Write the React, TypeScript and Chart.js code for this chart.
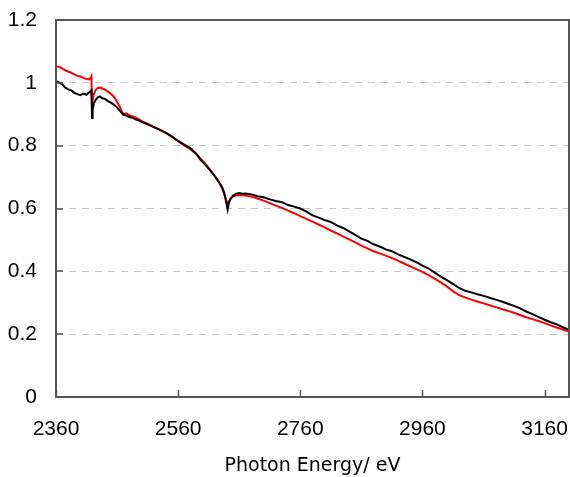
import React, { useEffect, useRef } from "react";
import { Chart, registerables } from "chart.js";

Chart.register(...registerables);

const energies = [
  2360, 2365, 2370, 2375, 2380, 2385, 2390, 2395, 2400, 2405, 2410, 2414, 2417, 2418, 2419, 2420, 2422, 2425, 2428, 2432,
  2436, 2440, 2445, 2450, 2455, 2460, 2465, 2470, 2475, 2480, 2485, 2490, 2495, 2500, 2510, 2520, 2530, 2540, 2550, 2560,
  2570, 2580, 2590, 2598, 2605, 2612, 2618, 2624, 2629, 2633, 2636, 2639, 2641, 2643, 2646, 2650, 2655, 2660, 2665, 2670,
  2680, 2690, 2700, 2710, 2720, 2730, 2740, 2750, 2760, 2770, 2780, 2790, 2800, 2810, 2820, 2830, 2840, 2850, 2860, 2870,
  2880, 2890, 2900, 2910, 2920, 2930, 2940, 2950, 2960, 2970, 2980, 2990, 3000, 3010, 3020, 3030, 3040, 3050, 3060, 3070,
  3080, 3090, 3100, 3110, 3120, 3130, 3140, 3150, 3160, 3170, 3180, 3190, 3200,
];

const blackSeries = [
  1.005, 1.001, 0.996, 0.985, 0.979, 0.976, 0.968, 0.964, 0.961, 0.966, 0.962, 0.969, 0.974, 0.976, 0.888, 0.915, 0.935, 0.946, 0.953, 0.957,
  0.951, 0.949, 0.942, 0.937, 0.93, 0.922, 0.91, 0.899, 0.896, 0.891, 0.889, 0.884, 0.881, 0.876, 0.868, 0.859, 0.85, 0.841, 0.829, 0.815,
  0.803, 0.792, 0.774, 0.752, 0.738, 0.722, 0.708, 0.692, 0.678, 0.664, 0.645, 0.618, 0.597, 0.618, 0.632, 0.641, 0.647, 0.649, 0.647, 0.648,
  0.645, 0.639, 0.636, 0.629, 0.624, 0.62, 0.611, 0.606, 0.6, 0.59, 0.578, 0.571, 0.563, 0.557, 0.546, 0.538, 0.527, 0.516, 0.504, 0.497,
  0.486, 0.479, 0.47, 0.464, 0.454, 0.446, 0.438, 0.429, 0.418, 0.409, 0.396, 0.383, 0.372, 0.36, 0.347, 0.338, 0.333, 0.327, 0.322, 0.316,
  0.31, 0.304, 0.297, 0.29, 0.282, 0.272, 0.264, 0.255, 0.246, 0.238, 0.231, 0.222, 0.214,
];

const redSeries = [
  1.052, 1.051, 1.046, 1.04, 1.036, 1.032, 1.027, 1.022, 1.02, 1.016, 1.012, 1.011, 1.016, 1.02, 0.925, 0.945, 0.965, 0.977, 0.983, 0.985,
  0.982, 0.978, 0.972, 0.965, 0.955, 0.94, 0.922, 0.9, 0.903, 0.897, 0.894, 0.89, 0.885, 0.878, 0.87, 0.86, 0.851, 0.841, 0.828, 0.814,
  0.801, 0.789, 0.773, 0.756, 0.741, 0.724, 0.709, 0.692, 0.676, 0.66, 0.642, 0.625, 0.61, 0.622, 0.632, 0.638, 0.642, 0.643, 0.642, 0.641,
  0.638, 0.632, 0.625, 0.617, 0.609, 0.602, 0.593, 0.585, 0.576, 0.567, 0.558, 0.549, 0.54, 0.53, 0.521, 0.511, 0.502, 0.492, 0.482, 0.473,
  0.464, 0.457, 0.45, 0.442, 0.434, 0.425, 0.416, 0.407, 0.398, 0.388, 0.377, 0.365, 0.352, 0.337, 0.324, 0.317, 0.31, 0.304, 0.298, 0.292,
  0.286, 0.28, 0.274, 0.268, 0.261, 0.254, 0.248, 0.242, 0.235, 0.228, 0.221, 0.215, 0.208,
];

const xTickValues = [2360, 2560, 2760, 2960, 3160];
const yTickValues = [0, 0.2, 0.4, 0.6, 0.8, 1, 1.2];

const TICK_FONT = "'Liberation Sans', Arial, sans-serif";
const TITLE_FONT = "'DejaVu Sans', sans-serif";

const framePlugin = {
  id: "frame",
  afterDraw(chart: any) {
    const { ctx, chartArea, scales } = chart;
    const { left, right, top, bottom } = chartArea;
    ctx.save();
    ctx.strokeStyle = "#555555";
    ctx.lineWidth = 2;
    ctx.beginPath();
    ctx.rect(left, top, right - left, bottom - top);
    ctx.stroke();
    ctx.lineWidth = 1.5;
    yTickValues.forEach((v) => {
      const y = Math.round(scales.y.getPixelForValue(v));
      ctx.beginPath();
      ctx.moveTo(left, y);
      ctx.lineTo(left + 7, y);
      ctx.stroke();
    });
    xTickValues.forEach((v) => {
      const x = Math.round(scales.x.getPixelForValue(v)) + 0.5;
      ctx.beginPath();
      ctx.moveTo(x, bottom);
      ctx.lineTo(x, bottom - 7);
      ctx.stroke();
    });
    ctx.restore();
  },
};

const zeroPadding = (s: any) => {
  s.paddingLeft = 0;
  s.paddingRight = 0;
  s.paddingTop = 0;
  s.paddingBottom = 0;
};

export default function App() {
  const ref = useRef<HTMLCanvasElement | null>(null);

  useEffect(() => {
    document.body.style.margin = "0";
    const canvas = ref.current;
    if (!canvas) return;
    const toPoints = (vals: number[]) => energies.map((e, i) => ({ x: e, y: vals[i] }));
    const chart = new Chart(canvas, {
      type: "line",
      data: {
        datasets: [
          {
            label: "black",
            data: toPoints(blackSeries),
            borderColor: "#000000",
            borderWidth: 2,
            pointRadius: 0,
            tension: 0,
          },
          {
            label: "red",
            data: toPoints(redSeries),
            borderColor: "#ff0000",
            borderWidth: 2,
            pointRadius: 0,
            tension: 0,
          },
        ],
      },
      options: {
        animation: false,
        responsive: false,
        maintainAspectRatio: false,
        layout: { padding: { top: 20, right: 1, left: 0, bottom: 0 } },
        plugins: { legend: { display: false }, tooltip: { enabled: false } },
        scales: {
          x: {
            type: "linear",
            min: 2360,
            max: 3200,
            afterFit: (s: any) => {
              s.height = 80;
              zeroPadding(s);
            },
            afterBuildTicks: (s: any) => {
              s.ticks = xTickValues.map((v) => ({ value: v }));
            },
            border: { display: false },
            grid: { display: false, drawTicks: false },
            ticks: {
              padding: 20,
              color: "#000000",
              font: { family: TICK_FONT, size: 21 },
              maxRotation: 0,
              autoSkip: false,
              callback: (v: any) => String(v),
            },
            title: {
              display: true,
              text: "Photon Energy/ eV",
              color: "#000000",
              font: { family: TITLE_FONT, size: 19 },
              padding: { top: 0, bottom: 0 },
            },
          },
          y: {
            min: 0,
            max: 1.2,
            afterFit: (s: any) => {
              s.width = 56;
              zeroPadding(s);
            },
            afterBuildTicks: (s: any) => {
              s.ticks = yTickValues.map((v) => ({ value: v }));
            },
            border: { display: false, dash: [7, 6] },
            grid: {
              drawTicks: false,
              color: (c: any) => (c.tick && (c.tick.value === 0 || c.tick.value === 1.2) ? "rgba(0,0,0,0)" : "#c8c8c8"),
              lineWidth: 1,
            },
            ticks: {
              padding: 19,
              color: "#000000",
              font: { family: TICK_FONT, size: 21 },
              callback: (v: any) => String(Math.round(Number(v) * 10) / 10),
            },
          },
        },
      },
      plugins: [framePlugin],
    } as any);
    return () => chart.destroy();
  }, []);

  return (
    <div style={{ width: 570, height: 477 }}>
      <canvas ref={ref} width={570} height={477} style={{ display: "block" }} />
    </div>
  );
}
